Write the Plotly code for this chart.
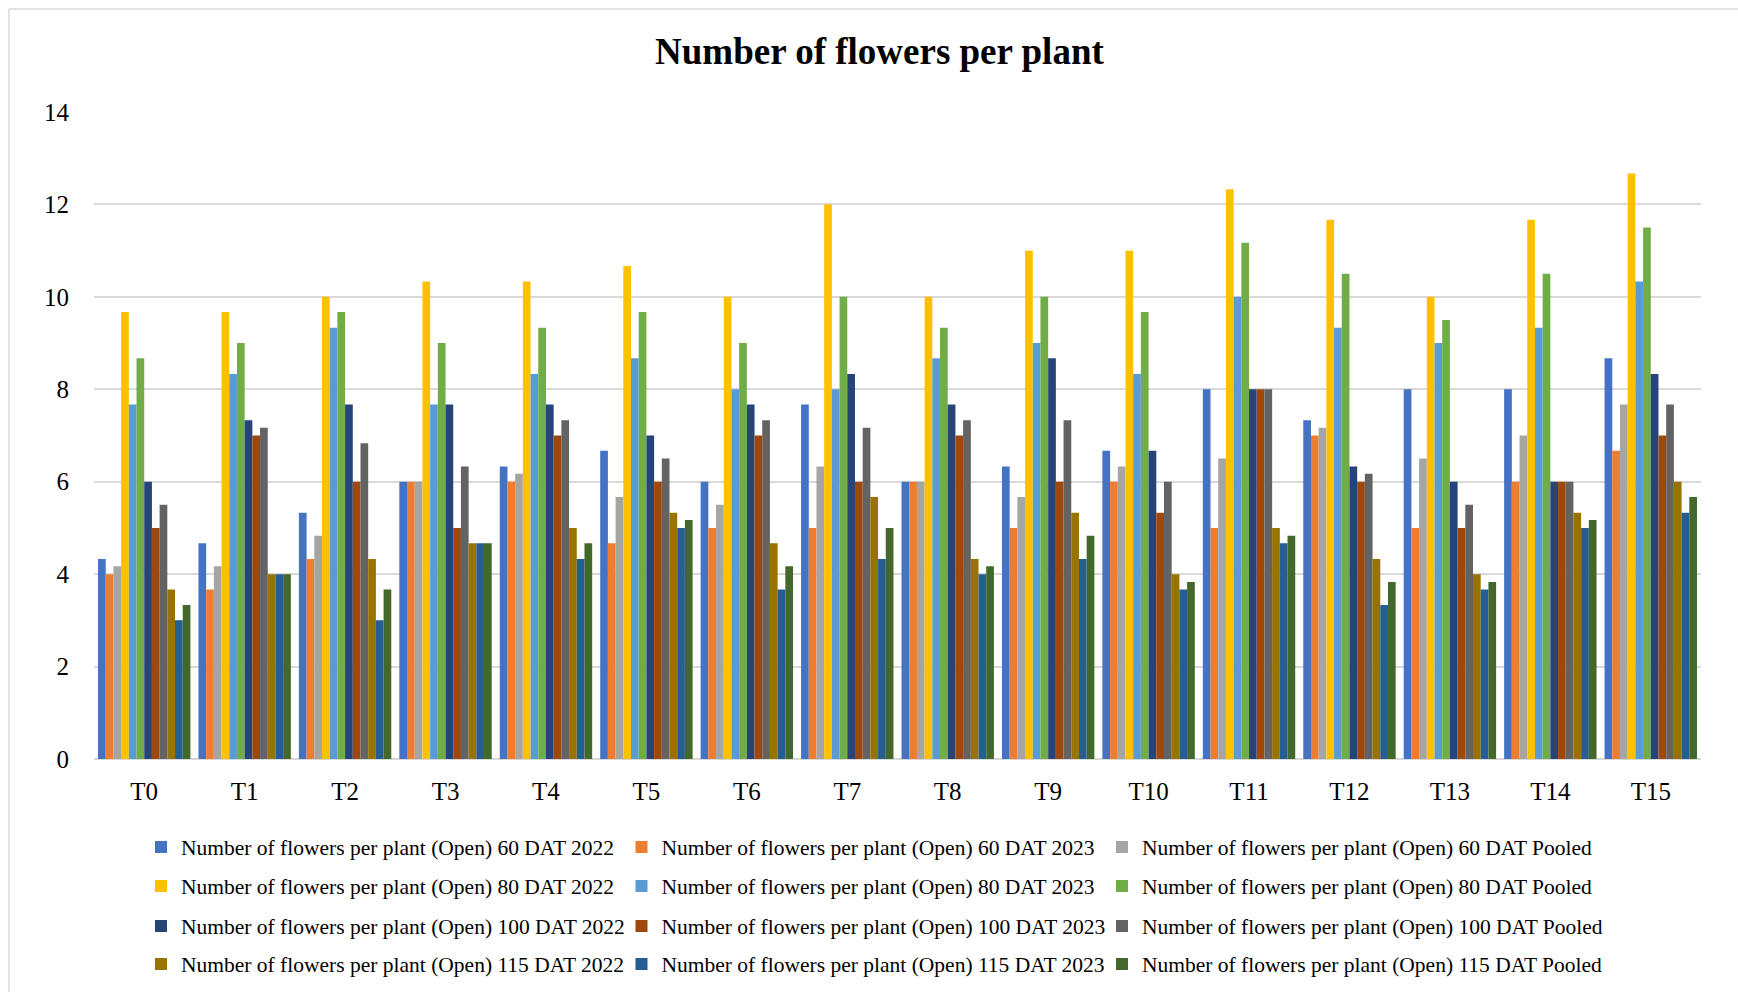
import plotly.graph_objects as go

# Treatments on the x axis
treatments = ["T0", "T1", "T2", "T3", "T4", "T5", "T6", "T7",
              "T8", "T9", "T10", "T11", "T12", "T13", "T14", "T15"]

# Open flowers per plant at each stage / season
dat60_2022 = [4.33, 4.67, 5.33, 6.00, 6.33, 6.67, 6.00, 7.67, 6.00, 6.33, 6.67, 8.00, 7.33, 8.00, 8.00, 8.67]
dat60_2023 = [4.00, 3.67, 4.33, 6.00, 6.00, 4.67, 5.00, 5.00, 6.00, 5.00, 6.00, 5.00, 7.00, 5.00, 6.00, 6.67]
dat60_pooled = [4.17, 4.17, 4.83, 6.00, 6.17, 5.67, 5.50, 6.33, 6.00, 5.67, 6.33, 6.50, 7.17, 6.50, 7.00, 7.67]

dat80_2022 = [9.67, 9.67, 10.00, 10.33, 10.33, 10.67, 10.00, 12.00, 10.00, 11.00, 11.00, 12.33, 11.67, 10.00, 11.67, 12.67]
dat80_2023 = [7.67, 8.33, 9.33, 7.67, 8.33, 8.67, 8.00, 8.00, 8.67, 9.00, 8.33, 10.00, 9.33, 9.00, 9.33, 10.33]
dat80_pooled = [8.67, 9.00, 9.67, 9.00, 9.33, 9.67, 9.00, 10.00, 9.33, 10.00, 9.67, 11.17, 10.50, 9.50, 10.50, 11.50]

dat100_2022 = [6.00, 7.33, 7.67, 7.67, 7.67, 7.00, 7.67, 8.33, 7.67, 8.67, 6.67, 8.00, 6.33, 6.00, 6.00, 8.33]
dat100_2023 = [5.00, 7.00, 6.00, 5.00, 7.00, 6.00, 7.00, 6.00, 7.00, 6.00, 5.33, 8.00, 6.00, 5.00, 6.00, 7.00]
dat100_pooled = [5.50, 7.17, 6.83, 6.33, 7.33, 6.50, 7.33, 7.17, 7.33, 7.33, 6.00, 8.00, 6.17, 5.50, 6.00, 7.67]

dat115_2022 = [3.67, 4.00, 4.33, 4.67, 5.00, 5.33, 4.67, 5.67, 4.33, 5.33, 4.00, 5.00, 4.33, 4.00, 5.33, 6.00]
dat115_2023 = [3.00, 4.00, 3.00, 4.67, 4.33, 5.00, 3.67, 4.33, 4.00, 4.33, 3.67, 4.67, 3.33, 3.67, 5.00, 5.33]
dat115_pooled = [3.33, 4.00, 3.67, 4.67, 4.67, 5.17, 4.17, 5.00, 4.17, 4.83, 3.83, 4.83, 3.83, 3.83, 5.17, 5.67]

series_names = [
    "Number of flowers per plant (Open) 60 DAT 2022",
    "Number of flowers per plant (Open) 60 DAT 2023",
    "Number of flowers per plant (Open) 60 DAT Pooled",
    "Number of flowers per plant (Open) 80 DAT 2022",
    "Number of flowers per plant (Open) 80 DAT 2023",
    "Number of flowers per plant (Open) 80 DAT Pooled",
    "Number of flowers per plant (Open) 100 DAT 2022",
    "Number of flowers per plant (Open) 100 DAT 2023",
    "Number of flowers per plant (Open) 100 DAT Pooled",
    "Number of flowers per plant (Open) 115 DAT 2022",
    "Number of flowers per plant (Open) 115 DAT 2023",
    "Number of flowers per plant (Open) 115 DAT Pooled",
]
series_values = [
    dat60_2022, dat60_2023, dat60_pooled,
    dat80_2022, dat80_2023, dat80_pooled,
    dat100_2022, dat100_2023, dat100_pooled,
    dat115_2022, dat115_2023, dat115_pooled,
]
colors = [
    "#4472C4", "#ED7D31", "#A5A5A5",
    "#FFC000", "#5B9BD5", "#70AD47",
    "#264478", "#9E480E", "#636363",
    "#997300", "#255E91", "#43682B",
]

W, H = 1738, 992
ML, MR, MT, MB = 94, 37, 112, 233
plot_w = W - ML - MR
plot_h = H - MT - MB

SERIF = "Liberation Serif, Times New Roman, serif"


def px_to_paper_x(px):
    return (px - ML) / plot_w


def px_to_paper_y(py):
    return (H - MB - py) / plot_h


# each legend entry sits in its own legend box on a 3-column grid
legend_ids = ["legend"] + [f"legend{k}" for k in range(2, len(series_names) + 1)]
col_starts = [141, 621.5, 1102]
row_centers = [847, 886, 926, 964]

fig = go.Figure()
legend_layout = {}
for i, (name, vals, col) in enumerate(zip(series_names, series_values, colors)):
    lid = legend_ids[i]
    fig.add_trace(go.Bar(
        x=treatments, y=vals, name=name,
        marker=dict(color=col, line=dict(width=0)),
        legend=lid,
    ))
    legend_layout[lid] = dict(
        x=px_to_paper_x(col_starts[i % 3]),
        y=px_to_paper_y(row_centers[i // 3]),
        xanchor="left", yanchor="middle", orientation="h",
        font=dict(family=SERIF, size=21.5, color="#000000"),
        bgcolor="rgba(0,0,0,0)", borderwidth=0,
    )

fig.update_layout(
    width=W, height=H,
    margin=dict(l=ML, r=MR, t=MT, b=MB, autoexpand=False),
    paper_bgcolor="white", plot_bgcolor="white",
    font=dict(family=SERIF, color="#000000"),
    barmode="group", bargap=0.08, bargroupgap=0,
    title=dict(
        text="<b>Number of flowers per plant</b>",
        font=dict(family=SERIF, size=37, color="#000000"),
        x=0.506, xref="container", xanchor="center",
        y=1 - 51 / H, yref="container", yanchor="middle",
    ),
    xaxis=dict(
        showgrid=False, showline=False, ticks="",
        tickfont=dict(family=SERIF, size=25, color="#000000"),
        ticklabelstandoff=15,
    ),
    yaxis=dict(
        range=[0, 14], dtick=2, showline=False, ticks="",
        gridcolor="#d9d9d9", gridwidth=1.5,
        zeroline=True, zerolinecolor="#d9d9d9", zerolinewidth=1.5,
        tickfont=dict(family=SERIF, size=25, color="#000000"),
        ticklabelstandoff=24,
    ),
    showlegend=True,
    **legend_layout,
)

# thin chart-area frame along the top and left edges
frame_color = "#d9d9d9"
fig.add_shape(type="line", xref="paper", yref="paper",
              x0=px_to_paper_x(9), x1=px_to_paper_x(W + 5),
              y0=px_to_paper_y(9), y1=px_to_paper_y(9),
              line=dict(color=frame_color, width=1.5))
fig.add_shape(type="line", xref="paper", yref="paper",
              x0=px_to_paper_x(9), x1=px_to_paper_x(9),
              y0=px_to_paper_y(9), y1=px_to_paper_y(H + 5),
              line=dict(color=frame_color, width=1.5))

fig.write_html("out.html")
